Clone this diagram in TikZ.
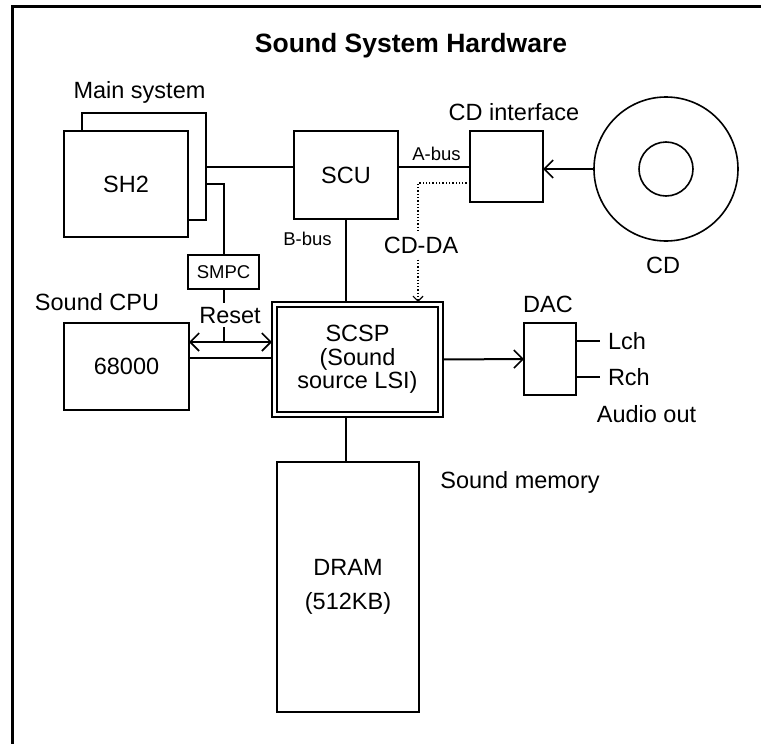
\documentclass[tikz,border=0pt]{standalone}
\usepackage{fontspec}
\setmainfont{Liberation Sans}
\usetikzlibrary{arrows.meta}
\tikzset{
  hwbox/.style={draw,line width=1.6pt,fill=white,inner sep=0pt,outer sep=0pt,
    align=center,font=\fontsize{23.5}{23.5}\selectfont},
  hwlabel/.style={anchor=base,inner sep=0pt,font=\fontsize{23.5}{23.5}\selectfont},
  buslabel/.style={anchor=base,inner sep=0pt,font=\fontsize{18.5}{18.5}\selectfont},
  hwline/.style={line width=2pt},
  hwtip/.tip={Straight Barb[length=9pt,width=18pt,line width=1.6pt]},
  hwarrow/.style={hwline,-hwtip},
  hwboth/.style={hwline,hwtip-hwtip},
}
\begin{document}
\begin{tikzpicture}[x=1pt,y=-1pt]
  \useasboundingbox (0,0) rectangle (761,744);
  \draw[line width=2.8pt] (12.5,744) -- (12.5,6.5) -- (761,6.5);
  \node[anchor=base,inner sep=0pt,font=\fontsize{26.5}{26.5}\selectfont\bfseries] (title) at (411,52) {Sound System Hardware};

  % boxes
  \node[hwbox,minimum width=124pt,minimum height=107pt] (sh2back) at (144,166.5) {};
  \node[hwbox,minimum width=124pt,minimum height=106pt] (sh2) at (126,184) {\raisebox{-5pt}{SH2}};
  \node[hwbox,minimum width=104pt,minimum height=88pt] (scu) at (346,175) {SCU};
  \node[hwbox,minimum width=73pt,minimum height=71pt] (cdif) at (506.5,166.5) {};
  \node[hwbox,minimum width=71pt,minimum height=34pt,font=\fontsize{18.5}{18.5}\selectfont] (smpc) at (223.5,272) {SMPC};
  \node[hwbox,minimum width=125pt,minimum height=87pt] (cpu) at (126.5,366.5) {\raisebox{-3pt}{68000}};
  \node[hwbox,line width=2.6pt,minimum width=171pt,minimum height=115pt] (scsp) at (357.5,359.5) {SCSP\\(Sound\\source LSI)};
  \draw[line width=1.2pt] ([shift={(5,5)}]scsp.north west) rectangle ([shift={(-5,-5)}]scsp.south east);
  \node[hwbox,minimum width=52pt,minimum height=72pt] (dac) at (550,359) {};
  \node[hwbox,minimum width=142pt,minimum height=250pt] (dram) at (348,587) {DRAM\\[10.5pt](512KB)};
  \node[draw,circle,line width=1.6pt,inner sep=0pt,minimum size=144pt] (cd) at (666,169) {};
  \node[draw,circle,line width=1.6pt,inner sep=0pt,minimum size=54pt] (cdhole) at (cd.center) {};

  % connections
  \draw[hwline] (sh2back.east) -- (sh2back.east -| scu.west);
  \draw[hwline] (sh2back.east |- sh2.center) -| (smpc.north);
  \draw[hwline] (cdif.west -| scu.east) -- (cdif.west);
  \draw[hwarrow] (cd.west) -- (cd.west -| cdif.east);
  \draw[hwline] (scu.south) -- (scu.south |- scsp.north);
  \draw[hwline] (scu.south |- scsp.south) -- (scu.south |- dram.north);
  \coordinate (rst) at ([yshift=24.5pt]cpu.east);
  \draw[hwline] (smpc.south) -- (smpc.south |- rst);
  \draw[hwboth] (rst) -- (rst -| scsp.west);
  \draw[hwline] ([yshift=8.5pt]cpu.east) -- ([yshift=8.5pt]cpu.east -| scsp.west);
  \draw[line width=1.3pt,dotted,-{Straight Barb[length=5pt,width=10pt,line width=1.2pt]}]
    ([yshift=-16.5pt]cdif.west) -| ([xshift=60.5pt]scsp.north);
  \draw[hwarrow] (scsp.east) -- (dac.west);
  \draw[hwline] ([yshift=18pt]dac.east) -- ++(24,0)
    node[hwlabel,anchor=west,xshift=7pt] (lch) {Lch};
  \draw[hwline] ([yshift=-18pt]dac.east) -- ++(24,0)
    node[hwlabel,anchor=west,xshift=7pt] (rch) {Rch};

  % labels
  \node[hwlabel] (mainlabel) at (139.5,98) {Main system};
  \node[hwlabel] (cdiflabel) at (514,120) {CD interface};
  \node[hwlabel] (cpulabel) at (97,310) {Sound CPU};
  \node[hwlabel] (daclabel) at (548,312) {DAC};
  \node[hwlabel] (audiolabel) at (646.5,422) {Audio out};
  \node[hwlabel] (memlabel) at (520,488) {Sound memory};
  \node[hwlabel] (cdlabel) at (663,273) {CD};
  \node[hwlabel,fill=white,inner xsep=2pt,inner ysep=5pt] (cddalabel) at (421,253) {CD-DA};
  \node[hwlabel,fill=white,inner xsep=1pt,inner ysep=4pt] (resetlabel) at (230,323) {Reset};
  \node[buslabel] (bbuslabel) at (307.5,245) {B-bus};
  \node[buslabel] (abuslabel) at (436.5,160) {A-bus};
\end{tikzpicture}
\end{document}
